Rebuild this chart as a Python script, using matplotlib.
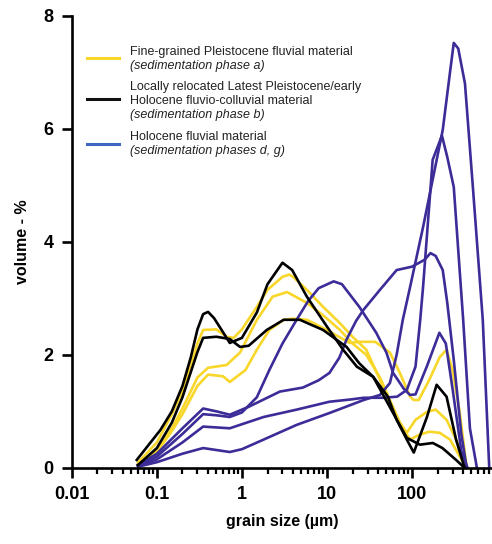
import matplotlib.pyplot as plt
from matplotlib.ticker import LogLocator, FixedLocator, NullFormatter

plt.rcParams["font.family"] = ["Liberation Sans", "DejaVu Sans"]

# grain size distributions (grain size in um, volume %)
yellow_1_x = [0.06, 0.1, 0.15, 0.2, 0.3, 0.35, 0.5, 0.66, 0.8, 1, 1.5, 2, 3, 3.6, 4, 5.8, 9, 14, 20, 29, 42, 55, 72, 87, 110, 150, 190, 255, 330, 440]
yellow_1_y = [0.09, 0.45, 0.95, 1.35, 2.2, 2.44, 2.45, 2.32, 2.3, 2.45, 2.85, 3.15, 3.38, 3.42, 3.38, 3.15, 2.85, 2.57, 2.32, 2.09, 1.56, 1.15, 0.8, 0.62, 0.85, 0.99, 1.03, 0.85, 0.5, 0.0]

yellow_2_x = [0.06, 0.1, 0.15, 0.2, 0.3, 0.4, 0.66, 0.95, 1.5, 2.3, 3.4, 5.8, 9, 14, 20, 29, 42, 55, 72, 95, 120, 160, 212, 280, 365, 440]
yellow_2_y = [0.06, 0.3, 0.7, 1.05, 1.6, 1.77, 1.82, 2.04, 2.62, 3.03, 3.11, 2.92, 2.7, 2.45, 2.2, 2.0, 1.6, 1.2, 0.8, 0.5, 0.58, 0.64, 0.62, 0.5, 0.2, 0.0]

yellow_3_x = [0.06, 0.1, 0.15, 0.2, 0.3, 0.4, 0.6, 0.72, 1.1, 1.5, 2.1, 3.1, 4, 5.8, 10, 18.5, 24, 37, 55, 72, 95, 105, 120, 160, 212, 255, 300, 365, 440]
yellow_3_y = [0.05, 0.28, 0.65, 0.95, 1.45, 1.65, 1.62, 1.52, 1.73, 2.09, 2.44, 2.62, 2.64, 2.62, 2.44, 2.21, 2.23, 2.23, 2.04, 1.68, 1.26, 1.2, 1.2, 1.56, 1.96, 2.09, 1.73, 0.97, 0.0]

black_1_x = [0.058, 0.11, 0.15, 0.2, 0.25, 0.3, 0.35, 0.4, 0.47, 0.6, 0.72, 1, 1.5, 2, 3, 3.9, 5.8, 10, 15.5, 22.5, 35, 52, 66, 87, 105, 150, 195, 255, 330, 415]
black_1_y = [0.14, 0.67, 1.0, 1.45, 1.95, 2.45, 2.72, 2.76, 2.65, 2.4, 2.21, 2.3, 2.75, 3.25, 3.63, 3.5, 3.03, 2.5, 2.09, 1.79, 1.61, 1.26, 0.85, 0.5, 0.27, 0.9, 1.47, 1.26, 0.5, 0.0]

black_2_x = [0.06, 0.1, 0.15, 0.2, 0.3, 0.35, 0.5, 0.72, 0.95, 1.2, 1.96, 3.1, 4.8, 9, 17, 24, 35, 60, 87, 124, 176, 228, 330, 415]
black_2_y = [0.05, 0.35, 0.8, 1.25, 2.05, 2.3, 2.32, 2.28, 2.14, 2.16, 2.44, 2.62, 2.62, 2.44, 2.14, 1.85, 1.61, 0.97, 0.53, 0.41, 0.44, 0.35, 0.14, 0.0]

blue_1_x = [0.06, 0.1, 0.2, 0.35, 0.72, 1, 1.8, 4.4, 10.7, 27, 42, 55, 66, 78, 95, 135, 230, 280, 310, 350, 420, 520, 680, 810]
blue_1_y = [0.02, 0.1, 0.25, 0.35, 0.28, 0.33, 0.5, 0.76, 0.97, 1.2, 1.29, 1.5, 2.0, 2.62, 3.2, 4.26, 5.98, 7.0, 7.52, 7.42, 6.8, 4.97, 2.62, 0.0]

blue_2_x = [0.06, 0.1, 0.2, 0.35, 0.72, 1.8, 4.4, 10.7, 19, 27, 46, 67, 87, 110, 125, 135, 175, 225, 260, 310, 400, 480, 580]
blue_2_y = [0.03, 0.15, 0.45, 0.73, 0.7, 0.9, 1.03, 1.17, 1.21, 1.24, 1.24, 1.26, 1.38, 1.79, 2.62, 3.2, 5.45, 5.88, 5.5, 4.97, 2.62, 0.7, 0.0]

blue_3_x = [0.06, 0.1, 0.2, 0.35, 0.5, 0.72, 1.2, 2.8, 5.2, 8, 10.7, 14, 17, 22, 27, 42, 66, 100, 140, 165, 190, 230, 260, 310, 380, 440]
blue_3_y = [0.05, 0.25, 0.7, 1.05, 1.0, 0.94, 1.08, 1.35, 1.42, 1.55, 1.68, 1.95, 2.27, 2.6, 2.8, 3.15, 3.5, 3.56, 3.68, 3.8, 3.75, 3.5, 2.92, 1.91, 0.6, 0.0]

blue_4_x = [0.06, 0.1, 0.2, 0.35, 0.5, 0.72, 1, 1.5, 2.1, 3, 4.4, 6, 8, 12, 15, 24, 38, 50, 60, 80, 95, 110, 150, 210, 250, 300, 380, 450]
blue_4_y = [0.04, 0.2, 0.6, 0.95, 0.93, 0.9, 0.98, 1.25, 1.73, 2.2, 2.62, 2.95, 3.18, 3.3, 3.25, 2.85, 2.39, 2.04, 1.68, 1.4, 1.29, 1.3, 1.8, 2.39, 2.2, 1.4, 0.3, 0.0]

yellow = "#f8d72a"
black = "#000000"
blue = "#3b2c98"

fig = plt.figure(figsize=(4.92, 5.44), dpi=100)
ax = fig.add_axes([0.146, 0.140, 0.854, 0.831])

lw = 1.9
for xs, ys in [(yellow_1_x, yellow_1_y), (yellow_2_x, yellow_2_y), (yellow_3_x, yellow_3_y)]:
    ax.plot(xs, ys, color=yellow, lw=lw, solid_joinstyle="round")
for xs, ys in [(blue_1_x, blue_1_y), (blue_2_x, blue_2_y), (blue_3_x, blue_3_y), (blue_4_x, blue_4_y)]:
    ax.plot(xs, ys, color=blue, lw=lw, solid_joinstyle="round")
for xs, ys in [(black_1_x, black_1_y), (black_2_x, black_2_y)]:
    ax.plot(xs, ys, color=black, lw=lw, solid_joinstyle="round")

ax.set_xscale("log")
ax.set_xlim(0.01, 873)
ax.set_ylim(0, 8)
ax.xaxis.set_major_locator(FixedLocator([0.01, 0.1, 1, 10, 100]))
ax.set_xticklabels(["0.01", "0.1", "1", "10", "100"])
ax.xaxis.set_minor_locator(LogLocator(base=10, subs=range(2, 10), numticks=20))
ax.xaxis.set_minor_formatter(NullFormatter())
ax.set_yticks([0, 2, 4, 6, 8])

for side in ["top", "right"]:
    ax.spines[side].set_visible(False)
for side in ["left", "bottom"]:
    ax.spines[side].set_linewidth(1.9)
ax.tick_params(which="major", direction="out", length=7, width=1.9, labelsize=13, pad=6)
ax.tick_params(which="minor", direction="out", length=4.5, width=1.6)
for lab in ax.get_xticklabels() + ax.get_yticklabels():
    lab.set_fontweight("bold")

ax.set_xlabel("grain size (\u00b5m)", fontsize=11.5, fontweight="bold", labelpad=8)
ax.set_ylabel("volume - %", fontsize=11.5, fontweight="bold", labelpad=10)

# legend drawn by hand to allow italic second lines
leg_items = [
    (yellow, 0.907, [("Fine-grained Pleistocene fluvial material", "normal", 0.920),
                     ("(sedimentation phase a)", "italic", 0.889)]),
    ("#111111", 0.816, [("Locally relocated Latest Pleistocene/early", "normal", 0.843),
                        ("Holocene fluvio-colluvial material", "normal", 0.812),
                        ("(sedimentation phase b)", "italic", 0.781)]),
    ("#3d68c2", 0.717, [("Holocene fluvial material", "normal", 0.732),
                        ("(sedimentation phases d, g)", "italic", 0.701)]),
]
for col, ly, lines in leg_items:
    ax.plot([0.036, 0.112], [ly, ly], color=col, lw=2.2, transform=ax.transAxes, clip_on=False)
    for txt, style, ty in lines:
        ax.text(0.138, ty, txt, transform=ax.transAxes, fontsize=9.0, style=style,
                color="#222222", va="center", ha="left")

fig.savefig("out.png", dpi=100)
